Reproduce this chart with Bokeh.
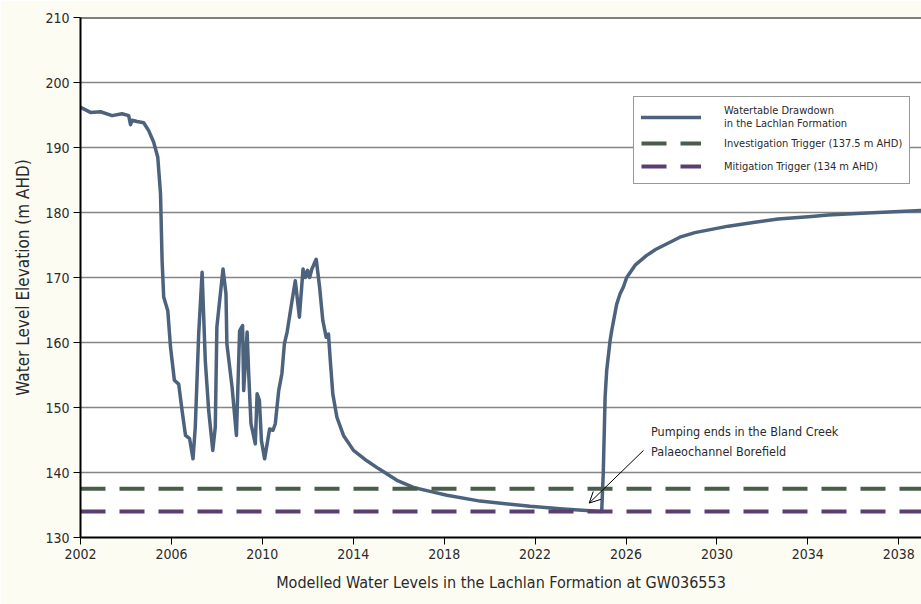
from bokeh.plotting import figure
from bokeh.models import (FixedTicker, Legend, LegendItem, Arrow, OpenHead,
                          Label, Span, Title)
from bokeh.embed import file_html
from bokeh.resources import INLINE

# ---------------- data ----------------
years = [2002.0, 2002.44, 2002.88, 2003.39, 2003.83, 2004.12, 2004.2, 2004.27,
         2004.49, 2004.78, 2005.0, 2005.22, 2005.4, 2005.52, 2005.59, 2005.66,
         2005.84, 2005.96, 2006.13, 2006.32, 2006.47, 2006.62, 2006.8, 2006.95,
         2007.05, 2007.2, 2007.35, 2007.49, 2007.64, 2007.82, 2007.93, 2008.0,
         2008.27, 2008.4, 2008.44, 2008.67, 2008.86, 2009.0, 2009.13, 2009.18,
         2009.33, 2009.4, 2009.5, 2009.69, 2009.77, 2009.87, 2009.96, 2010.1,
         2010.32, 2010.47, 2010.57, 2010.72, 2010.86, 2010.97, 2011.09, 2011.31,
         2011.45, 2011.63, 2011.79, 2011.89, 2011.99, 2012.08, 2012.18, 2012.37,
         2012.52, 2012.66, 2012.81, 2012.91, 2012.99, 2013.1, 2013.28, 2013.57,
         2014.01, 2014.6, 2015.11, 2015.92, 2016.65, 2017.38, 2018.12, 2019.58,
         2021.78, 2023.24, 2024.93, 2025.0, 2025.08, 2025.15, 2025.3, 2025.37,
         2025.59, 2025.74, 2025.88, 2026.03, 2026.4, 2026.91, 2027.3,
         2028.37, 2029.03, 2030.5, 2031.67, 2032.69, 2034.16, 2034.89, 2036.36,
         2037.09, 2039.0]
levels = [196.2, 195.4, 195.5, 194.9, 195.2, 194.9, 193.5, 194.2,
          194.0, 193.8, 192.6, 190.8, 188.5, 182.9, 172.6, 167.0,
          164.9, 159.3, 154.2, 153.6, 149.5, 145.7, 145.2, 142.1,
          147.0, 161.3, 170.8, 157.2, 149.5, 143.4, 147.0, 162.4,
          171.3, 167.5, 159.8, 153.1, 145.7, 161.8, 162.6, 152.6,
          161.6, 155.2, 147.5, 144.4, 152.1, 151.1, 144.9, 142.1,
          146.7, 146.5, 147.5, 152.6, 155.2, 159.8, 161.6, 166.5,
          169.5, 163.9, 171.3, 170.0, 171.1, 170.0, 171.3, 172.8,
          168.5, 163.4, 160.8, 161.3, 157.2, 152.1, 148.5, 145.7,
          143.4, 141.8, 140.6, 138.8, 137.7, 137.1, 136.5, 135.6,
          134.8, 134.4, 134.0, 140.0, 151.6, 155.7, 160.3, 161.8,
          165.9, 167.5, 168.5, 170.0, 171.9, 173.4, 174.3,
          176.2, 176.9, 177.9, 178.5, 179.0, 179.4, 179.6, 179.9,
          180.0, 180.3]

trigger_years = [2002.0, 2039.0]
investigation_trigger = 137.5
mitigation_trigger = 134.0

x_ticks = [2002, 2006, 2010, 2014, 2018, 2022, 2026, 2030, 2034, 2038]
y_ticks = [130, 140, 150, 160, 170, 180, 190, 200, 210]

series_labels = ["Watertable Drawdown\nin the Lachlan Formation",
                 "Investigation Trigger (137.5 m AHD)",
                 "Mitigation Trigger (134 m AHD)"]
annotation_text = "Pumping ends in the Bland Creek\nPalaeochannel Borefield"
x_title = "Modelled Water Levels in the Lachlan Formation at GW036553"
y_title = "Water Level Elevation (m AHD)"

# ---------------- styles ----------------
FONT = "DejaVu Sans Condensed"
TXT = "#2a2a2a"
C_CURVE = "#4d637d"
C_INV = "#4a5d4b"
C_MIT = "#5b3f73"

p = figure(width=921, height=604, x_range=(2002, 2039), y_range=(130, 210),
           output_backend="svg", toolbar_location=None,
           min_border_left=80, min_border_right=0, min_border_top=17,
           min_border_bottom=67)
p.background_fill_color = "white"
p.border_fill_color = "#fcfcf3"
p.outline_line_color = None

p.xgrid.visible = False
p.ygrid.grid_line_color = "#858585"
p.ygrid.grid_line_width = 1.5

for ax in (p.xaxis[0], p.yaxis[0]):
    ax.axis_line_color = "black"
    ax.axis_line_width = 2
    ax.major_tick_line_color = "black"
    ax.major_tick_line_width = 1
    ax.major_tick_in = 0
    ax.major_tick_out = 7
    ax.minor_tick_line_color = None
    ax.major_label_text_font = FONT
    ax.major_label_text_font_size = "14px"
    ax.major_label_text_color = TXT
    ax.axis_label_text_font = FONT
    ax.axis_label_text_font_size = "16px"
    ax.axis_label_text_font_style = "normal"
    ax.axis_label_text_color = TXT

p.xaxis.ticker = FixedTicker(ticks=x_ticks)
p.yaxis.ticker = FixedTicker(ticks=y_ticks)
p.xaxis.major_label_standoff = 4
p.yaxis.major_label_standoff = 4
p.xaxis.axis_label = x_title
p.xaxis.axis_label_standoff = 11

# y-axis title, a little above the frame centre as in the original
p.add_layout(Title(text=y_title, align="center", offset=42, standoff=20,
                   text_font=FONT, text_font_size="17px",
                   text_font_style="normal", text_color=TXT), "left")

p.add_layout(Span(location=210, dimension="width", line_color="black",
                  line_width=2))

r_curve = p.line(years, levels, line_color=C_CURVE, line_width=3.5,
                 line_join="round", line_cap="round")
r_inv = p.line(trigger_years, [investigation_trigger] * 2, line_color=C_INV,
               line_width=4, line_dash="25 14")
r_mit = p.line(trigger_years, [mitigation_trigger] * 2, line_color=C_MIT,
               line_width=4, line_dash="25 14")

legend = Legend(items=[LegendItem(label=series_labels[0], renderers=[r_curve]),
                       LegendItem(label=series_labels[1], renderers=[r_inv]),
                       LegendItem(label=series_labels[2], renderers=[r_mit])],
                location=(553, 353))
legend.glyph_width = 60
legend.glyph_height = 20
legend.label_standoff = 23
legend.padding = 7
legend.spacing = 3
legend.margin = 0
legend.label_text_font = FONT
legend.label_text_font_size = "11px"
legend.label_text_color = TXT
legend.label_text_line_height = 1.2
legend.border_line_color = "#333333"
legend.border_line_width = 1.5
legend.background_fill_color = "white"
legend.background_fill_alpha = 1.0
p.add_layout(legend)

p.add_layout(Label(x=2027.1, y=147.4, text=annotation_text,
                   text_font=FONT, text_font_size="12.5px", text_color=TXT,
                   text_align="left", text_baseline="top",
                   text_line_height=1.3))
p.add_layout(Arrow(end=OpenHead(size=11, line_width=1, line_color="black"),
                   x_start=2026.77, y_start=143.4, x_end=2024.38, y_end=135.3,
                   line_width=1, line_color="black"))

open("out.html", "w").write(file_html(p, INLINE))
